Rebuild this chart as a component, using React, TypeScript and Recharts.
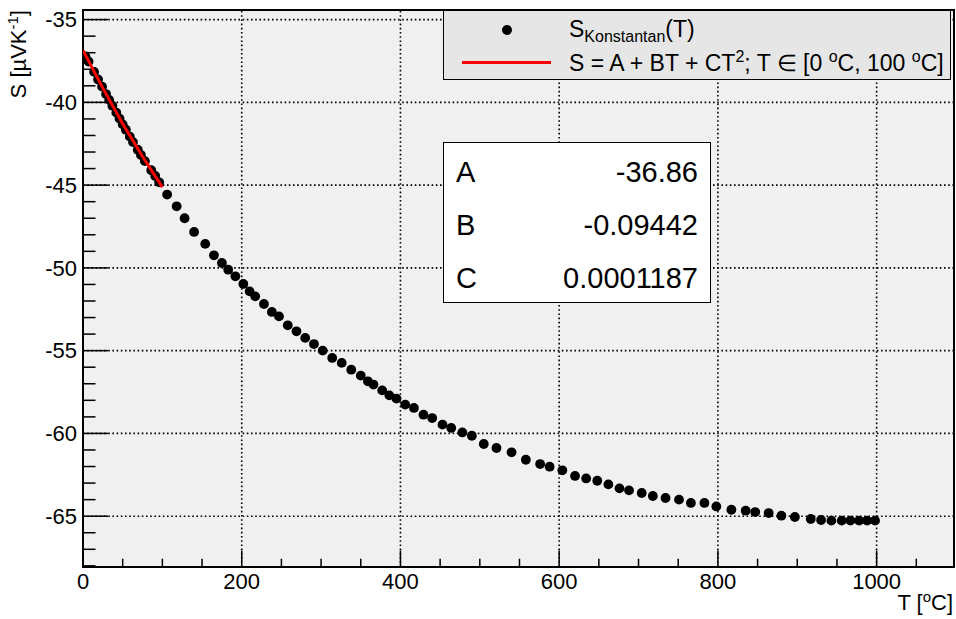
import React from "react";
import { ScatterChart, Scatter, XAxis, YAxis, ReferenceLine, ReferenceArea } from "recharts";

// measured points, Konstantan
const tempC = [
  3, 7, 14, 19, 24, 29, 33, 37, 42, 46, 50, 54, 59, 63, 69, 73, 78, 86, 91, 96,
  106, 118, 128, 140, 154, 165, 175, 183, 192, 202, 210, 217, 228, 238, 247, 258, 269, 280, 291,
  302, 314, 326, 338, 350, 359, 366, 377, 386, 395, 406, 417, 429, 440, 453, 464, 478, 490,
  505, 521, 540, 558, 576, 588, 604, 620, 634, 648, 662, 676, 688, 704, 718, 734,
  751, 766, 783, 798, 817, 835, 847, 864, 880, 897, 917, 930, 943, 956, 967, 978, 988, 998,
];
const seebeck = [
  -37.22, -37.53, -38.16, -38.62, -39.05, -39.5, -39.85, -40.2, -40.62, -40.98, -41.33, -41.65, -42.07, -42.4, -42.86, -43.18, -43.55, -44.1, -44.45, -44.83,
  -45.57, -46.28, -47.0, -47.83, -48.55, -49.24, -49.7, -50.11, -50.51, -50.97, -51.42, -51.72, -52.18, -52.66, -52.93, -53.47, -53.83, -54.23, -54.6,
  -55.0, -55.44, -55.74, -56.15, -56.51, -56.85, -57.05, -57.4, -57.7, -57.9, -58.26, -58.46, -58.87, -59.07, -59.47, -59.67, -59.94, -60.14,
  -60.64, -60.88, -61.14, -61.59, -61.85, -62.01, -62.23, -62.57, -62.72, -62.86, -63.08, -63.32, -63.44, -63.6, -63.78, -63.9,
  -64.0, -64.2, -64.2, -64.41, -64.61, -64.67, -64.75, -64.81, -64.97, -65.05, -65.17, -65.23, -65.27, -65.27, -65.27, -65.27, -65.27, -65.27,
];

// fit curve S = A + BT + CT^2 on [0, 100] C
const fitT = [0, 25, 50, 75, 100];
const fitS = [-36.86, -39.14, -41.29, -43.27, -45.12];

const fitParams = [
  { name: "A", value: "-36.86" },
  { name: "B", value: "-0.09442" },
  { name: "C", value: "0.0001187" },
];

const xMajor = [0, 200, 400, 600, 800, 1000];
const xMinor = [50, 100, 150, 250, 300, 350, 450, 500, 550, 650, 700, 750, 850, 900, 950, 1050];
const yMajor = [-65, -60, -55, -50, -45, -40, -35];
const yMinor = [
  -36, -37, -38, -39, -41, -42, -43, -44, -46, -47, -48, -49, -51, -52, -53, -54,
  -56, -57, -58, -59, -61, -62, -63, -64, -66, -67, -68,
];

const X_MAX = 1097.5;
const Y_MIN = -68.07;
const Y_MAX = -34.42;

const points = tempC.map((t, i) => ({ T: t, S: seebeck[i] }));
const fitLine = fitT.map((t, i) => ({ T: t, S: fitS[i] }));

const font = '"Liberation Sans", Arial, Helvetica, sans-serif';

const Dot = (props: any) => <circle cx={props.cx} cy={props.cy} r={4.9} fill="#000" />;
const NoDot = () => <g />;

export default function App() {
  const tickStyle = { fill: "#000", fontSize: 22, fontFamily: font };
  const sup = { fontSize: 15, verticalAlign: "8px", lineHeight: 0 };
  return (
    <div style={{ position: "absolute", left: 0, top: 0, width: 956, height: 619, background: "#fff", fontFamily: font }}>
      <ScatterChart width={956} height={619} margin={{ top: 10, right: 2, bottom: 22, left: 23 }}>
        <XAxis
          type="number"
          dataKey="T"
          domain={[0, X_MAX]}
          ticks={xMajor}
          interval={0}
          height={30}
          axisLine={false}
          tickLine={false}
          tickSize={0}
          tickMargin={6}
          tick={tickStyle}
          allowDataOverflow
        />
        <YAxis
          type="number"
          dataKey="S"
          domain={[Y_MIN, Y_MAX]}
          ticks={yMajor}
          interval={0}
          width={60}
          axisLine={false}
          tickLine={false}
          tickSize={0}
          tickMargin={6}
          tick={tickStyle}
          allowDataOverflow
        />
        <ReferenceArea x1={0} x2={X_MAX} y1={Y_MIN} y2={Y_MAX} fill="#f0f0f0" fillOpacity={1} stroke="none" />
        {xMajor.slice(1).map((v) => (
          <ReferenceLine key={"gx" + v} x={v} stroke="#000" strokeWidth={1.6} strokeDasharray="1.6 2.6" />
        ))}
        {yMajor.map((v) => (
          <ReferenceLine key={"gy" + v} y={v} stroke="#000" strokeWidth={1.6} strokeDasharray="1.6 2.6" />
        ))}
        {yMajor.map((v) => (
          <ReferenceLine key={"ty" + v} segment={[{ x: 0, y: v }, { x: 31.5, y: v }]} stroke="#000" strokeWidth={1.5} />
        ))}
        {yMinor.map((v) => (
          <ReferenceLine key={"tmy" + v} segment={[{ x: 0, y: v }, { x: 15.75, y: v }]} stroke="#000" strokeWidth={1.5} />
        ))}
        {xMajor.slice(1).map((v) => (
          <ReferenceLine key={"tx" + v} segment={[{ x: v, y: Y_MIN }, { x: v, y: Y_MIN + 1.0 }]} stroke="#000" strokeWidth={1.5} />
        ))}
        {xMinor.map((v) => (
          <ReferenceLine key={"tmx" + v} segment={[{ x: v, y: Y_MIN }, { x: v, y: Y_MIN + 0.5 }]} stroke="#000" strokeWidth={1.5} />
        ))}
        <ReferenceArea x1={0} x2={X_MAX} y1={Y_MIN} y2={Y_MAX} fill="none" stroke="#000" strokeWidth={2} />
        <Scatter data={points} shape={Dot} isAnimationActive={false} />
        <Scatter
          data={fitLine}
          shape={NoDot}
          line={{ stroke: "#ff0000", strokeWidth: 3 }}
          lineType="joint"
          isAnimationActive={false}
        />
      </ScatterChart>

      {/* axis titles */}
      <div
        style={{
          position: "absolute",
          left: 6,
          top: 10,
          width: 90,
          height: 26,
          transformOrigin: "0 0",
          transform: "translate(0px, 90px) rotate(-90deg)",
          fontSize: 22,
          lineHeight: "26px",
          whiteSpace: "nowrap",
          textAlign: "right",
        }}
      >
        S [µVK<sup style={sup}>-1</sup>]
      </div>
      <div style={{ position: "absolute", right: 3, top: 590, fontSize: 22, lineHeight: "26px", whiteSpace: "nowrap" }}>
        T [<sup style={sup}>o</sup>C]
      </div>

      {/* legend */}
      <div
        style={{
          position: "absolute",
          left: 443,
          top: 10,
          width: 506,
          height: 68,
          background: "#e6e6e6",
          border: "1.5px solid #000",
          fontSize: 23,
          whiteSpace: "nowrap",
        }}
      >
        <div style={{ position: "absolute", left: 58, top: 14, width: 10, height: 10, borderRadius: 5, background: "#000" }} />
        <div style={{ position: "absolute", left: 125, top: 5, lineHeight: "26px" }}>
          S<sub style={{ fontSize: 16, verticalAlign: "-5px", lineHeight: 0 }}>Konstantan</sub>(T)
        </div>
        <div style={{ position: "absolute", left: 18, top: 50, width: 89, height: 3, background: "#ff0000" }} />
        <div style={{ position: "absolute", left: 125, top: 39, lineHeight: "26px" }}>
          S = A + BT + CT<sup style={{ fontSize: 16, verticalAlign: "9px", lineHeight: 0 }}>2</sup>; T ∈ [0{" "}
          <sup style={{ fontSize: 16, verticalAlign: "9px", lineHeight: 0 }}>o</sup>C, 100{" "}
          <sup style={{ fontSize: 16, verticalAlign: "9px", lineHeight: 0 }}>o</sup>C]
        </div>
      </div>

      {/* fit parameter box */}
      <div
        style={{
          position: "absolute",
          left: 443,
          top: 142,
          width: 266,
          height: 159,
          background: "#fff",
          border: "1.5px solid #000",
          fontSize: 29,
        }}
      >
        {fitParams.map((p, i) => (
          <div
            key={p.name}
            style={{
              position: "absolute",
              left: 12,
              right: 12,
              top: 12 + i * 53,
              height: 34,
              lineHeight: "34px",
              display: "flex",
              justifyContent: "space-between",
            }}
          >
            <span>{p.name}</span>
            <span>{p.value}</span>
          </div>
        ))}
      </div>
    </div>
  );
}
